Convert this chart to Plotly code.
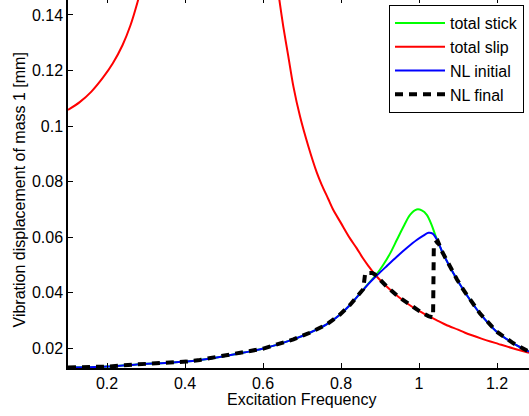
import plotly.graph_objects as go

# ---- data ----
stick_freq = [0.100, 0.150, 0.200, 0.276, 0.350, 0.404, 0.438, 0.524, 0.601, 0.678, 0.720, 0.763,
              0.797, 0.823, 0.849, 0.870, 0.8915, 0.908, 0.926, 0.943, 0.960, 0.977, 0.994, 1.007,
              1.020, 1.032, 1.041, 1.048, 1.060, 1.079, 1.097, 1.114, 1.135, 1.156, 1.199, 1.242, 1.282]
stick_amp = [0.0130, 0.0131, 0.0133, 0.0141, 0.0146, 0.0151, 0.0157, 0.0177, 0.0198, 0.0231, 0.0255, 0.0285,
             0.0320, 0.0355, 0.0397, 0.0432, 0.0466, 0.0499, 0.0541, 0.0589, 0.0637, 0.0680, 0.0699, 0.0696,
             0.0680, 0.0645, 0.0610, 0.0585, 0.0545, 0.0493, 0.0448, 0.0409, 0.0365, 0.0325, 0.0259, 0.0217, 0.0187]

slip_freq = [0.100, 0.130, 0.160, 0.190, 0.215, 0.240, 0.260, 0.278, 0.290, None,
             0.632, 0.642, 0.652, 0.665, 0.678, 0.695, 0.716, 0.738, 0.750, 0.767, 0.780, 0.800, 0.823,
             0.840, 0.855, 0.870, 0.887, 0.917, 0.947, 0.985, 1.000, 1.024, 1.050, 1.070, 1.100, 1.118,
             1.160, 1.203, 1.240, 1.282]
slip_amp = [0.1058, 0.1086, 0.1124, 0.1175, 0.1226, 0.1292, 0.1362, 0.1445, 0.1510, None,
            0.1560, 0.1454, 0.1358, 0.1250, 0.1142, 0.1034, 0.0928, 0.0832, 0.0790, 0.0738, 0.0698, 0.0650, 0.0595,
            0.0560, 0.0526, 0.0496, 0.0465, 0.0422, 0.0385, 0.0346, 0.0334, 0.0315, 0.0297, 0.0283, 0.0266, 0.0255,
            0.0234, 0.0215, 0.0199, 0.0183]

init_freq = [0.100, 0.150, 0.200, 0.276, 0.350, 0.404, 0.438, 0.524, 0.601, 0.678, 0.720, 0.763,
             0.797, 0.823, 0.849, 0.870, 0.8915, 0.917, 0.943, 0.970, 0.994, 1.010, 1.024, 1.035,
             1.048, 1.060, 1.079, 1.097, 1.114, 1.135, 1.156, 1.199, 1.242, 1.282]
init_amp = [0.0130, 0.0131, 0.0133, 0.0141, 0.0146, 0.0151, 0.0157, 0.0177, 0.0198, 0.0231, 0.0255, 0.0285,
            0.0320, 0.0355, 0.0397, 0.0430, 0.0461, 0.0495, 0.0529, 0.0562, 0.0589, 0.0604, 0.0615, 0.0612,
            0.0585, 0.0545, 0.0493, 0.0448, 0.0409, 0.0365, 0.0325, 0.0259, 0.0217, 0.0187]

final_freq = [0.100, 0.150, 0.200, 0.276, 0.350, 0.404, 0.438, 0.524, 0.601, 0.678, 0.720, 0.763,
              0.797, 0.823, 0.849, 0.857, 0.862, 0.880, 0.887, 0.917, 0.947, 0.985, 1.000, 1.024, 1.036,
              1.038, 1.048, 1.060, 1.079, 1.097, 1.114, 1.135, 1.156, 1.199, 1.242, 1.282]
final_amp = [0.0130, 0.0131, 0.0133, 0.0141, 0.0146, 0.0151, 0.0157, 0.0177, 0.0198, 0.0231, 0.0255, 0.0285,
             0.0320, 0.0355, 0.0397, 0.0412, 0.0470, 0.0470, 0.0465, 0.0422, 0.0385, 0.0346, 0.0334, 0.0315, 0.0310,
             0.0575, 0.0585, 0.0545, 0.0493, 0.0448, 0.0409, 0.0365, 0.0325, 0.0259, 0.0217, 0.0187]

x_ticks = [0.2, 0.4, 0.6, 0.8, 1.0, 1.2]
x_tick_text = ["0.2", "0.4", "0.6", "0.8", "1", "1.2"]
y_ticks = [0.02, 0.04, 0.06, 0.08, 0.10, 0.12, 0.14]
y_tick_text = ["0.02", "0.04", "0.06", "0.08", "0.1", "0.12", "0.14"]

X_RANGE = [0.1, 1.282]
Y_RANGE = [0.0128, 0.1454]
FONT = "Liberation Sans, Arial, sans-serif"

fig = go.Figure()
fig.add_trace(go.Scatter(x=stick_freq, y=stick_amp, mode="lines", name="total stick", legendgroup="a",
                         line=dict(color="#00ff00", width=2, shape="spline", smoothing=0.8)))
fig.add_trace(go.Scatter(x=slip_freq, y=slip_amp, mode="lines", name="total slip", legendgroup="b",
                         connectgaps=False,
                         line=dict(color="#ff0000", width=2, shape="spline", smoothing=0.8)))
fig.add_trace(go.Scatter(x=init_freq, y=init_amp, mode="lines", name="NL initial", legendgroup="c",
                         line=dict(color="#0000ff", width=2, shape="spline", smoothing=0.8)))
fig.add_trace(go.Scatter(x=final_freq, y=final_amp, mode="lines", name="NL final", legendgroup="d",
                         xaxis="x2",
                         line=dict(color="#000000", width=4, dash="8px,6px")))

fig.update_layout(
    width=529, height=416,
    margin=dict(l=68, r=0, t=0, b=48),
    paper_bgcolor="white", plot_bgcolor="white",
    font=dict(family=FONT, size=16, color="#000000"),
    showlegend=True,
    legend=dict(x=(389 - 68) / 461, y=1 - 5 / 368, xanchor="left", yanchor="top",
                bgcolor="white", bordercolor="#000000", borderwidth=1,
                font=dict(family=FONT, size=16, color="#000000"),
                tracegroupgap=0, itemwidth=50),
    xaxis=dict(range=X_RANGE, tickvals=x_ticks, ticktext=x_tick_text, ticks="inside", ticklen=5,
               tickwidth=1, tickcolor="#000000", showline=True, linecolor="#000000", linewidth=1.5,
               showgrid=False, zeroline=False, tickfont=dict(family=FONT, size=16)),
    xaxis2=dict(range=X_RANGE, matches="x", overlaying="x", side="top", tickvals=x_ticks,
                ticks="inside", ticklen=3, tickwidth=1, tickcolor="#000000", showticklabels=False,
                showline=False, showgrid=False, zeroline=False),
    yaxis=dict(range=Y_RANGE, tickvals=y_ticks, ticktext=y_tick_text, ticks="inside", ticklen=5,
               tickwidth=1, tickcolor="#000000", showline=True, linecolor="#000000", linewidth=1.5,
               showgrid=False, zeroline=False, tickfont=dict(family=FONT, size=16)),
    annotations=[
        dict(text="Excitation Frequency", xref="paper", yref="paper",
             x=(301.7 - 68) / 461, y=(368 - 399) / 368, xanchor="center", yanchor="middle",
             showarrow=False, font=dict(family=FONT, size=16)),
        dict(text="Vibration displacement of mass 1 [mm]", xref="paper", yref="paper",
             x=(19 - 68) / 461, y=(368 - 190.5) / 368, xanchor="center", yanchor="middle",
             textangle=-90, showarrow=False, font=dict(family=FONT, size=16)),
    ],
)

fig.write_html("out.html", config={"displayModeBar": False},
               post_script="document.body.style.margin='0px';document.body.style.padding='0px';")
